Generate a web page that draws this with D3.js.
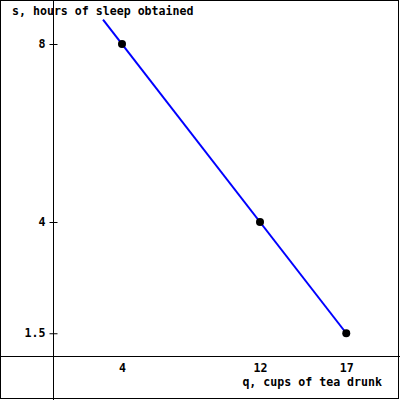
<!DOCTYPE html>
<html>
<head>
<meta charset="utf-8">
<script src="https://cdn.jsdelivr.net/npm/d3@7"></script>
<style>
  body { margin: 0; background: #fff; }
  text { font-family: "DejaVu Sans Mono", monospace; font-weight: bold; font-size: 11.6px; fill: #000; }
</style>
</head>
<body>
<script>
// tea vs sleep
const xTicks = [4, 12, 17];
const yTicks = [8, 4, 1.5];
const cups = [4, 12, 17];
const sleep = [8, 4, 1.5];
const lineCups = [2.9, 17];
const lineSleep = [8.55, 1.5];

const width = 400;
const height = 400;

const svg = d3.select('body')
    .append('svg')
    .attr('width', width)
    .attr('height', height);

const xScale = d3.scaleLinear()
    .domain([0, 20])
    .range([53, 398]);
const yScale = d3.scaleLinear()
    .domain([0, 9])
    .range([400, -0.5]);

// frame
svg.append('rect')
    .attr('x', 0.5).attr('y', 0.5)
    .attr('width', 398).attr('height', 398)
    .attr('fill', 'none')
    .attr('stroke', '#000');

// axes lines
svg.append('line')
    .attr('x1', 0).attr('x2', width)
    .attr('y1', Math.round(yScale(1)) + 0.5).attr('y2', Math.round(yScale(1)) + 0.5)
    .attr('stroke', '#000');
svg.append('line')
    .attr('x1', xScale(0) + 0.5).attr('x2', xScale(0) + 0.5)
    .attr('y1', 0).attr('y2', height)
    .attr('stroke', '#000');

// y ticks
const yAxis = d3.axisLeft(yScale)
    .tickValues(yTicks)
    .tickSizeInner(4)
    .tickSizeOuter(0)
    .tickPadding(4)
    .tickFormat(d => d);
const gy = svg.append('g')
    .attr('transform', `translate(${xScale(0) + 0.5},0)`)
    .call(yAxis);
gy.select('.domain').remove();
gy.selectAll('.tick line').attr('x1', -4).attr('x2', 4).attr('stroke', '#000');
gy.selectAll('.tick text').attr('font-family', null).attr('font-size', null);

// x tick labels
const xAxis = d3.axisBottom(xScale)
    .tickValues(xTicks)
    .tickSize(0)
    .tickPadding(8);
const gx = svg.append('g')
    .attr('transform', `translate(0,${yScale(1)})`)
    .call(xAxis);
gx.select('.domain').remove();
gx.selectAll('.tick text').attr('font-family', null).attr('font-size', null);

// titles
svg.append('text')
    .attr('x', 12).attr('y', 15)
    .text('s, hours of sleep obtained');
svg.append('text')
    .attr('x', 382).attr('y', 386)
    .style('text-anchor', 'end')
    .text('q, cups of tea drunk');

// line
const line = d3.line()
    .x(d => xScale(d[0]))
    .y(d => yScale(d[1]));
svg.append('path')
    .datum(lineCups.map((c, i) => [c, lineSleep[i]]))
    .attr('d', line)
    .attr('fill', 'none')
    .attr('stroke', '#0000ff')
    .attr('stroke-width', 2);

// points
svg.selectAll('.dot')
    .data(cups.map((c, i) => [c, sleep[i]]))
    .enter()
    .append('circle')
    .classed('dot', true)
    .attr('cx', d => xScale(d[0]))
    .attr('cy', d => yScale(d[1]))
    .attr('r', 4)
    .attr('fill', '#000');
</script>
</body>
</html>
